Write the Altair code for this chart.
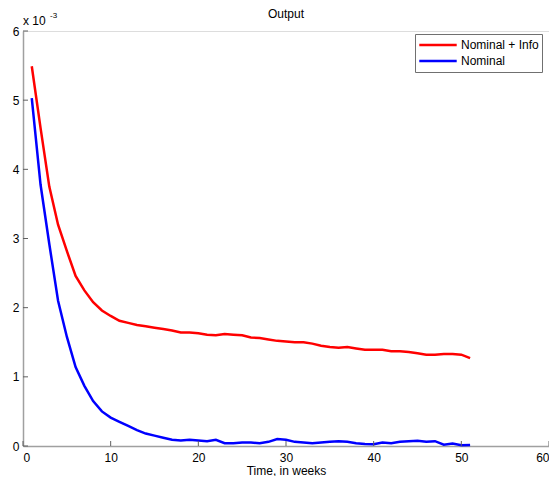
import altair as alt
import pandas as pd

# Values in units of 1e-3 (axis shows "x 10^-3")
weeks = list(range(1, 52))
nominal_info = [5.49, 4.60, 3.75, 3.20, 2.82, 2.46, 2.25, 2.08, 1.96, 1.88,
                1.81, 1.78, 1.75, 1.73, 1.71, 1.69, 1.67, 1.64, 1.64, 1.63,
                1.61, 1.60, 1.62, 1.61, 1.60, 1.57, 1.56, 1.54, 1.52, 1.51,
                1.50, 1.50, 1.48, 1.45, 1.43, 1.42, 1.43, 1.41, 1.39, 1.39,
                1.39, 1.37, 1.37, 1.36, 1.34, 1.32, 1.32, 1.33, 1.33, 1.32,
                1.27]
nominal = [5.03, 3.78, 2.92, 2.10, 1.58, 1.14, 0.87, 0.65, 0.50, 0.41,
           0.35, 0.29, 0.23, 0.18, 0.15, 0.12, 0.09, 0.08, 0.09, 0.08,
           0.07, 0.09, 0.04, 0.04, 0.05, 0.05, 0.04, 0.06, 0.10, 0.09,
           0.06, 0.05, 0.04, 0.05, 0.06, 0.07, 0.06, 0.04, 0.03, 0.025,
           0.05, 0.04, 0.06, 0.07, 0.075, 0.06, 0.07, 0.02, 0.035, 0.01,
           0.015]
series_names = ["Nominal + Info", "Nominal"]
series_colors = ["#ff0000", "#0000ff"]
x_ticks = [0, 10, 20, 30, 40, 50, 60]
y_ticks = [0, 1, 2, 3, 4, 5, 6]
chart_title = "Output"
x_title = "Time, in weeks"

rows = []
for w, v in zip(weeks, nominal_info):
    rows.append({"week": w, "value": v, "series": series_names[0]})
for w, v in zip(weeks, nominal):
    rows.append({"week": w, "value": v, "series": series_names[1]})
df = pd.DataFrame(rows)

W, H = 526, 415
FONT = "Liberation Sans"

xscale = alt.Scale(domain=[0, 60], nice=False, zero=False)
yscale = alt.Scale(domain=[0, 6], nice=False)

lines = alt.Chart(df).mark_line(strokeWidth=2.5).encode(
    x=alt.X("week:Q", scale=xscale,
            axis=alt.Axis(values=x_ticks, ticks=False, grid=False, title=x_title,
                          format="d",
                          domainColor="#a0a0a0", domainWidth=1.5, labelPadding=6,
                          titlePadding=2, labelFontSize=12, titleFontSize=12,
                          titleFontWeight="normal", labelColor="#000", titleColor="#000")),
    y=alt.Y("value:Q", scale=yscale,
            axis=alt.Axis(values=y_ticks, ticks=False, grid=False, title=None,
                          format="d",
                          domainColor="#a0a0a0", domainWidth=1.5, labelPadding=4,
                          labelFontSize=12, labelColor="#000")),
    color=alt.Color("series:N",
                    scale=alt.Scale(domain=series_names, range=series_colors),
                    sort=series_names,
                    legend=alt.Legend(title=None, orient="none", legendX=392, legendY=3,
                                      symbolType="stroke", symbolSize=1400,
                                      symbolStrokeWidth=2.5, labelFontSize=12,
                                      clipHeight=16, labelOffset=3,
                                      strokeColor="#707070", fillColor="white",
                                      padding=3, rowPadding=0, labelColor="#000")),
    detail="series:N",
)

xt = pd.DataFrame({"t": x_ticks})
yt = pd.DataFrame({"t": y_ticks})
xtick_rules = alt.Chart(xt).mark_rule(color="#606060", strokeWidth=1).encode(
    x=alt.X("t:Q", scale=xscale), y=alt.value(H), y2=alt.value(H - 5))
ytick_rules = alt.Chart(yt).mark_rule(color="#606060", strokeWidth=1).encode(
    y=alt.Y("t:Q", scale=yscale), x=alt.value(0), x2=alt.value(5))

title_text = alt.Chart(pd.DataFrame({"t": [chart_title]})).mark_text(
    align="center", baseline="alphabetic", fontSize=12, font=FONT, color="#000").encode(
    text="t:N", x=alt.value(W / 2), y=alt.value(-13))
exp_main = alt.Chart(pd.DataFrame({"t": ["x 10"]})).mark_text(
    align="left", baseline="alphabetic", fontSize=12, font=FONT, color="#000").encode(
    text="t:N", x=alt.value(0), y=alt.value(-6))
exp_sup = alt.Chart(pd.DataFrame({"t": ["-3"]})).mark_text(
    align="left", baseline="alphabetic", fontSize=8, font=FONT, color="#000").encode(
    text="t:N", x=alt.value(27), y=alt.value(-13))

chart = alt.layer(lines, xtick_rules, ytick_rules, title_text, exp_main, exp_sup).resolve_scale(
    color="independent").properties(
    width=W, height=H,
    autosize=alt.AutoSizeParams(type="none"),
    padding={"left": 15, "top": 23, "right": 0, "bottom": 30},
).configure_view(stroke=None).configure(font=FONT)

chart.save("out.html", embed_options={"renderer": "svg", "actions": False})
